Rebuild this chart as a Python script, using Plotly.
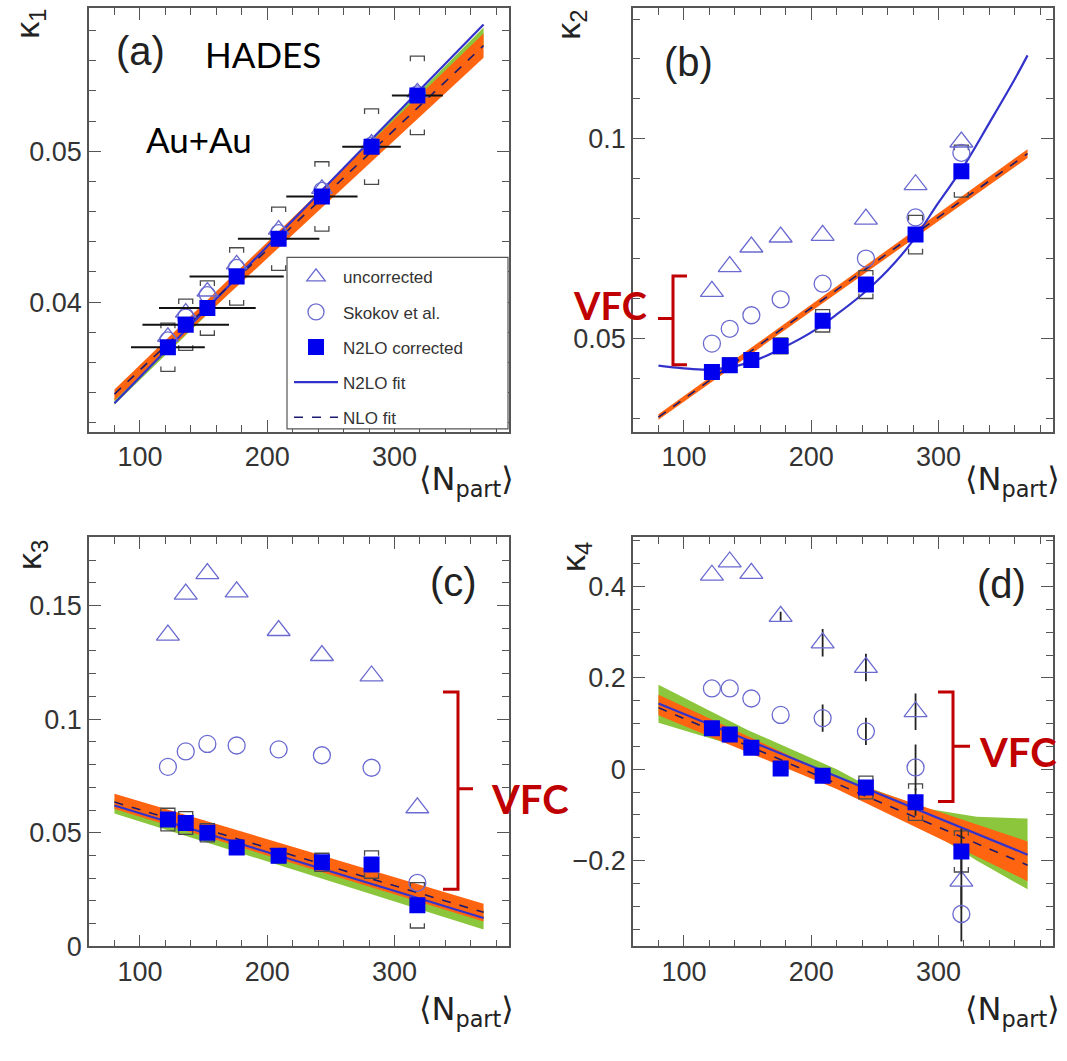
import plotly.graph_objects as go

# ---------------- data ----------------
npart = [122, 136, 153, 176, 209, 243, 282, 318]
npart_err = [29, 34, 38, 37, 32, 28, 23, 20]

# kappa1
k1_uncorr = [0.0377, 0.0393, 0.0407, 0.0425, 0.0448, 0.0475, 0.0505, 0.0539]
k1_skokov = [0.0375, 0.0390, 0.0405, 0.0423, 0.0446, 0.0474, 0.0504, 0.0538]
k1_corr = [0.0370, 0.0385, 0.0396, 0.0417, 0.0442, 0.0470, 0.0503, 0.0537]
k1_sys = [0.0016, 0.0017, 0.0018, 0.0019, 0.0021, 0.0023, 0.0025, 0.0026]

# kappa2
k2_uncorr = [0.0618, 0.0680, 0.0729, 0.0754, 0.0758, 0.0799, 0.0885, 0.0992]
k2_skokov = [0.0487, 0.0524, 0.0558, 0.0598, 0.0637, 0.0700, 0.0803, 0.0965]
k2_corr = [0.0416, 0.0433, 0.0446, 0.0481, 0.0544, 0.0635, 0.0760, 0.0919]
k2_sys = [0.0018, 0.0018, 0.0018, 0.0020, 0.0028, 0.0035, 0.0048, 0.0065]

# kappa3
k3_uncorr = [0.137, 0.155, 0.164, 0.156, 0.139, 0.128, 0.119, 0.061]
k3_skokov = [0.0790, 0.0858, 0.0891, 0.0884, 0.0867, 0.0841, 0.0786, 0.028]
k3_corr = [0.0558, 0.0543, 0.0500, 0.0435, 0.0399, 0.0370, 0.0360, 0.0181]
k3_sys = [0.005, 0.005, 0.004, 0.003, 0.003, 0.004, 0.006, 0.010]

# kappa4
k4_uncorr = [0.425, 0.454, 0.429, 0.335, 0.277, 0.223, 0.126, -0.245]
k4_uncorr_err = [0.0, 0.0, 0.0, 0.01, 0.03, 0.03, 0.04, 0.06]
k4_skokov = [0.177, 0.177, 0.155, 0.119, 0.112, 0.083, 0.004, -0.317]
k4_skokov_err = [0.0, 0.0, 0.0, 0.0, 0.03, 0.03, 0.05, 0.06]
k4_corr = [0.090, 0.076, 0.047, 0.0015, -0.0145, -0.040, -0.072, -0.180]
k4_corr_err = [0.01, 0.01, 0.01, 0.01, 0.01, 0.015, 0.03, 0.05]
k4_sys = [0.012, 0.012, 0.010, 0.010, 0.010, 0.025, 0.040, 0.045]

# fits
fit_x = [80, 370]
k1_n2lo_fit = [0.0333, 0.0584]
k1_nlo_fit = [0.0339, 0.0570]
k1_nlo_band_lo = [0.0335, 0.0562]
k1_nlo_band_hi = [0.0342, 0.0578]
k1_n2lo_band_lo = [0.0332, 0.0570]
k1_n2lo_band_hi = [0.0336, 0.0582]

k2_curve_x = [80, 100, 120, 140, 160, 180, 200, 220, 240, 260, 280, 300, 320, 340, 360, 370]
k2_n2lo_fit = [0.0432, 0.0425, 0.0422, 0.0430, 0.0450, 0.0480, 0.0515, 0.0560, 0.0610,
               0.0670, 0.0745, 0.0840, 0.0932, 0.1040, 0.1150, 0.1209]
k2_nlo_fit = [0.0303, 0.0963]
k2_nlo_band_lo = [0.0296, 0.0952]
k2_nlo_band_hi = [0.0310, 0.0974]

k3_n2lo_fit = [0.0620, 0.0125]
k3_nlo_fit = [0.0635, 0.0150]
k3_nlo_band_lo = [0.0605, 0.0110]
k3_nlo_band_hi = [0.0672, 0.0188]
k3_n2lo_band_lo = [0.0585, 0.0075]
k3_n2lo_band_hi = [0.0650, 0.0160]

k4_n2lo_fit = [0.144, -0.187]
k4_nlo_fit = [0.135, -0.210]
k4_nlo_band_x = [80, 220, 370]
k4_nlo_band_lo = [0.118, -0.043, -0.245]
k4_nlo_band_hi = [0.163, -0.018, -0.158]
k4_n2lo_band_x = [80, 150, 220, 250, 290, 330, 370]
k4_n2lo_band_lo = [0.102, 0.043, -0.035, -0.076, -0.130, -0.200, -0.263]
k4_n2lo_band_hi = [0.185, 0.086, 0.000, -0.045, -0.086, -0.104, -0.108]

# ---------------- style ----------------
W, H = 1067, 1061
C_OPEN = "#6a6ad0"
C_SQ = "#0000ee"
C_N2LO = "#3333cc"
C_NLO = "#1a1a70"
C_ORANGE = "#ff6410"
C_GREEN = "#8cc63c"
C_SYS = "#4a4a4a"
C_RED = "#c00000"

XR = [60, 390]
YR = {1: [0.0314, 0.0595], 2: [0.0266, 0.1328], 3: [0.0, 0.180], 4: [-0.388, 0.508]}
PLOT_H = 420

fig = go.Figure()


def ax(i):
    return ("x" if i == 1 else f"x{i}"), ("y" if i == 1 else f"y{i}")


def band(i, xs, lo, hi, color):
    xa, ya = ax(i)
    fig.add_trace(go.Scatter(x=list(xs) + list(xs)[::-1], y=list(hi) + list(lo)[::-1],
                             fill="toself", fillcolor=color, line=dict(width=0),
                             mode="lines", showlegend=False, hoverinfo="skip",
                             xaxis=xa, yaxis=ya))


def line(i, xs, ys, color, dash, width, name=None, legend=False, rank=None, shape="linear"):
    xa, ya = ax(i)
    fig.add_trace(go.Scatter(x=xs, y=ys, mode="lines",
                             line=dict(color=color, dash=dash, width=width, shape=shape),
                             name=name, showlegend=legend, legendgroup=name,
                             legendrank=rank if rank else 1000,
                             xaxis=xa, yaxis=ya))


def sys_brackets(i, xs, ys, errs, half=5.5, tick_px=5):
    xa, ya = ax(i)
    span = YR[i][1] - YR[i][0]
    tick = span * tick_px / PLOT_H
    bx, by = [], []
    for x, y, e in zip(xs, ys, errs):
        t = min(tick, e)
        top, bot = y + e, y - e
        bx += [x - half, x - half, x + half, x + half, None,
               x - half, x - half, x + half, x + half, None]
        by += [top - t, top, top, top - t, None,
               bot + t, bot, bot, bot + t, None]
    fig.add_trace(go.Scatter(x=bx, y=by, mode="lines", line=dict(color=C_SYS, width=1.3),
                             showlegend=False, hoverinfo="skip", xaxis=xa, yaxis=ya))


def points(i, ys, symbol, color, size, name, legend, rank, filled=False,
           err_x=None, err_y=None):
    xa, ya = ax(i)
    if filled:
        marker = dict(symbol=symbol, size=size, color=color, line=dict(width=0))
    else:
        marker = dict(symbol=symbol, size=size, color=color, line=dict(color=color, width=1.3))
    kw = {}
    if err_x is not None:
        kw["error_x"] = dict(type="data", array=err_x, color="#111", thickness=2, width=0)
    if err_y is not None:
        kw["error_y"] = dict(type="data", array=err_y, color="#222", thickness=1.8, width=0)
    fig.add_trace(go.Scatter(x=npart, y=ys, mode="markers", marker=marker, name=name,
                             showlegend=legend, legendgroup=name, legendrank=rank,
                             xaxis=xa, yaxis=ya, **kw))


# panel (a)
band(1, fit_x, k1_n2lo_band_lo, k1_n2lo_band_hi, C_GREEN)
band(1, fit_x, k1_nlo_band_lo, k1_nlo_band_hi, C_ORANGE)
line(1, fit_x, k1_n2lo_fit, C_N2LO, "solid", 2.2, "N2LO fit", True, 4)
line(1, fit_x, k1_nlo_fit, C_NLO, "dash", 1.6, "NLO fit", True, 5)
sys_brackets(1, npart, k1_corr, k1_sys)
points(1, k1_uncorr, "triangle-up-open", C_OPEN, 18, "uncorrected", True, 1)
points(1, k1_skokov, "circle-open", C_OPEN, 16, "Skokov et al.", True, 2)
points(1, k1_corr, "square", C_SQ, 16, "N2LO corrected", True, 3, filled=True, err_x=npart_err)

# panel (b)
band(2, fit_x, k2_nlo_band_lo, k2_nlo_band_hi, C_ORANGE)
line(2, k2_curve_x, k2_n2lo_fit, C_N2LO, "solid", 2.2, shape="spline")
line(2, fit_x, k2_nlo_fit, C_NLO, "dash", 1.6)
sys_brackets(2, npart, k2_corr, k2_sys)
points(2, k2_uncorr, "triangle-up-open", C_OPEN, 20, "uncorrected", False, 1)
points(2, k2_skokov, "circle-open", C_OPEN, 17, "Skokov et al.", False, 2)
points(2, k2_corr, "square", C_SQ, 16, "N2LO corrected", False, 3, filled=True)

# panel (c)
band(3, fit_x, k3_n2lo_band_lo, k3_n2lo_band_hi, C_GREEN)
band(3, fit_x, k3_nlo_band_lo, k3_nlo_band_hi, C_ORANGE)
line(3, fit_x, k3_n2lo_fit, C_N2LO, "solid", 2.2)
line(3, fit_x, k3_nlo_fit, C_NLO, "dash", 1.6)
sys_brackets(3, npart, k3_corr, k3_sys)
points(3, k3_uncorr, "triangle-up-open", C_OPEN, 20, "uncorrected", False, 1)
points(3, k3_skokov, "circle-open", C_OPEN, 17, "Skokov et al.", False, 2)
points(3, k3_corr, "square", C_SQ, 16, "N2LO corrected", False, 3, filled=True)

# panel (d)
band(4, k4_n2lo_band_x, k4_n2lo_band_lo, k4_n2lo_band_hi, C_GREEN)
band(4, k4_nlo_band_x, k4_nlo_band_lo, k4_nlo_band_hi, C_ORANGE)
line(4, fit_x, k4_n2lo_fit, C_N2LO, "solid", 2.2)
line(4, fit_x, k4_nlo_fit, C_NLO, "dash", 1.6)
sys_brackets(4, npart, k4_corr, k4_sys)
points(4, k4_uncorr, "triangle-up-open", C_OPEN, 20, "uncorrected", False, 1, err_y=k4_uncorr_err)
points(4, k4_skokov, "circle-open", C_OPEN, 17, "Skokov et al.", False, 2, err_y=k4_skokov_err)
points(4, k4_corr, "square", C_SQ, 16, "N2LO corrected", False, 3, filled=True, err_y=k4_corr_err)

# ---------------- axes ----------------
def px_x(p):
    return p / W


def px_y(p):
    return 1 - p / H


XDOM_L = [px_x(89), px_x(509)]
XDOM_R = [px_x(633), px_x(1053)]
YDOM_T = [px_y(438), px_y(8)]
YDOM_B = [px_y(960), px_y(545)]

tickfont = dict(family="Liberation Sans, Arial, sans-serif", size=27, color="#333")


def xaxis_style(dom, anchor):
    return dict(domain=dom, anchor=anchor, range=XR, showline=True, linecolor="#555",
                linewidth=1.5, mirror="ticks", ticks="inside", ticklen=12, tickwidth=1.2,
                tickcolor="#555", tickvals=[100, 200, 300], showgrid=False, zeroline=False,
                tickfont=tickfont,
                minor=dict(ticks="inside", ticklen=7, tickcolor="#555", tickwidth=1.2,
                           dtick=20, tick0=0, showgrid=False))


def yaxis_style(dom, anchor, rng, dtick, minor):
    return dict(domain=dom, anchor=anchor, range=rng, showline=True, linecolor="#555",
                linewidth=1.5, mirror="ticks", ticks="inside", ticklen=12, tickwidth=1.2,
                tickcolor="#555", dtick=dtick, tick0=0, showgrid=False, zeroline=False,
                tickfont=tickfont,
                minor=dict(ticks="inside", ticklen=7, tickcolor="#555", tickwidth=1.2,
                           dtick=minor, tick0=0, showgrid=False))


fig.update_layout(
    width=W, height=H,
    margin=dict(l=0, r=0, t=0, b=0),
    paper_bgcolor="white", plot_bgcolor="white",
    xaxis=xaxis_style(XDOM_L, "y"),
    yaxis=yaxis_style(YDOM_T, "x", YR[1], 0.01, 0.002),
    xaxis2=xaxis_style(XDOM_R, "y2"),
    yaxis2=yaxis_style(YDOM_T, "x2", YR[2], 0.05, 0.01),
    xaxis3=xaxis_style(XDOM_L, "y3"),
    yaxis3=yaxis_style(YDOM_B, "x3", YR[3], 0.05, 0.01),
    xaxis4=xaxis_style(XDOM_R, "y4"),
    yaxis4=yaxis_style(YDOM_B, "x4", YR[4], 0.2, 0.05),
    legend=dict(x=px_x(289), y=px_y(263), xanchor="left", yanchor="top",
                bgcolor="rgba(0,0,0,0)", borderwidth=0,
                font=dict(family="Liberation Sans, Arial, sans-serif", size=17, color="#333"),
                traceorder="grouped", tracegroupgap=10, itemwidth=44),
    showlegend=True,
)

# ---------------- annotations ----------------
ann = []


def text(xp, yp, s, size, color="#222", family="Liberation Sans, Arial, sans-serif",
         angle=0, bold=False):
    if bold:
        s = f"<b>{s}</b>"
    ann.append(dict(x=px_x(xp), y=px_y(yp), xref="paper", yref="paper", text=s,
                    showarrow=False, textangle=angle, xanchor="center", yanchor="middle",
                    font=dict(size=size, color=color, family=family)))


text(140, 52, "(a)", 40)
text(263, 55, "HADES", 35, "#000", "Lato, Open Sans, sans-serif")
text(199, 141, "Au+Au", 35, "#000", "Lato, Open Sans, sans-serif")
text(688, 63, "(b)", 40)
text(453, 590, "(c)", 40)
text(1001, 592, "(d)", 40)

for (xp, yp, k) in [(30, 24, 1), (571, 25, 2), (31, 563, 3), (575, 565, 4)]:
    text(xp, yp, f"κ<sub>{k}</sub>", 34, "#222", angle=-90)
for (xp, yp) in [(466, 488), (1012, 488), (466, 1025), (1012, 1025)]:
    text(xp, yp, "⟨N<sub>part</sub>⟩", 32, "#222", "DejaVu Sans, Liberation Sans, sans-serif")

text(610, 309, "VFC", 38, C_RED, "Lato, Open Sans, sans-serif", bold=True)
text(530, 810, "VFC", 40, C_RED, "Lato, Open Sans, sans-serif", bold=True)
text(1018, 763, "VFC", 40, C_RED, "Lato, Open Sans, sans-serif", bold=True)

fig.update_layout(annotations=ann)


def brace(stub_x, vert_x, tip_x, top, mid, bot):
    pts = lambda x, y: f"{px_x(x):.5f},{px_y(y):.5f}"
    path = (f"M {pts(stub_x, top)} L {pts(vert_x, top)} L {pts(vert_x, bot)} "
            f"L {pts(stub_x, bot)} M {pts(vert_x, mid)} L {pts(tip_x, mid)}")
    return dict(type="path", xref="paper", yref="paper", path=path,
                line=dict(color=C_RED, width=3))


legend_box = dict(type="rect", xref="paper", yref="paper", layer="above",
                  x0=px_x(287), x1=px_x(508), y0=px_y(435), y1=px_y(261),
                  fillcolor="white", line=dict(color="#555", width=1.2))

fig.update_layout(shapes=[
    legend_box,
    brace(687, 673, 658, 280, 323, 370),
    brace(443, 458, 473, 702, 800, 902),
    brace(938, 953, 970, 702, 757, 813),
])

fig.write_html("out.html")
